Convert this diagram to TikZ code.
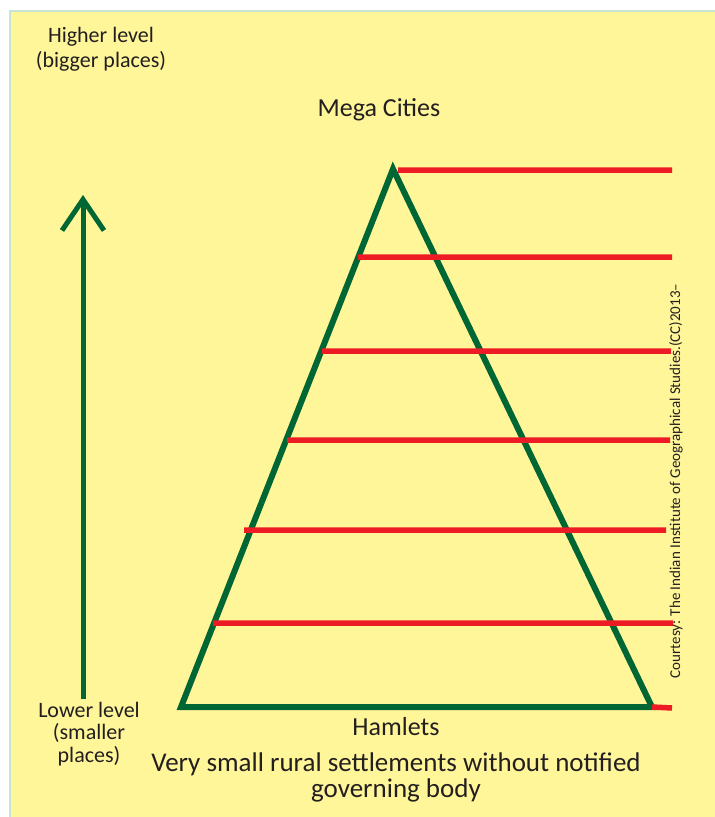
\documentclass[tikz,border=0pt]{standalone}
\usepackage{fontspec}
\setmainfont{Carlito}
\usetikzlibrary{arrows.meta}
\definecolor{paper}{RGB}{255,245,153}
\definecolor{edge}{RGB}{200,228,210}
\definecolor{pygreen}{RGB}{0,102,51}
\definecolor{lvred}{RGB}{237,28,36}
\definecolor{ink}{RGB}{35,31,32}
\tikzset{
  pyramid/.style={draw=pygreen,line width=6pt,line join=miter},
  levelline/.style={draw=lvred,line width=5.5pt},
  bigtext/.style={text=ink,font=\fontsize{26}{27}\selectfont,align=center,inner sep=0pt},
  sidetext/.style={text=ink,font=\fontsize{22}{23}\selectfont,align=center,inner sep=0pt}
}
\begin{document}
\begin{tikzpicture}[x=1pt,y=-1pt]
\useasboundingbox (0,0) rectangle (715,817);
\fill[paper] (10,11) rectangle (716,818);
\draw[edge,line width=1.5pt] (10,818) -- (10,11) -- (716,11);
% pyramid
\coordinate (apex) at (393,169);
\coordinate (left) at (181,707);
\coordinate (right) at (652,707);
\draw[pyramid] (apex) -- (left) -- (right) -- cycle;
% levels
\coordinate (l1a) at (398,170); \coordinate (l1b) at (672,170);
\coordinate (l2a) at (358,257); \coordinate (l2b) at (672,257);
\coordinate (l3a) at (322,351); \coordinate (l3b) at (671,351);
\coordinate (l4a) at (287,440); \coordinate (l4b) at (670,440);
\coordinate (l5a) at (244,530); \coordinate (l5b) at (666,530);
\coordinate (l6a) at (213,623); \coordinate (l6b) at (673,623);
\coordinate (l7b) at (672,708);
\path[levelline]
  (l1a) -- (l1b)
  (l2a) -- (l2b)
  (l3a) -- (l3b)
  (l4a) -- (l4b)
  (l5a) -- (l5b)
  (l6a) -- (l6b)
  (right) -- (l7b)
;
% scale arrow
\coordinate (low) at (83,699);
\coordinate (high) at (83,195);
\draw[pygreen,line width=5pt,-{Straight Barb[length=31pt,width=42pt,line width=5pt]}] (low) -- (high);
% labels
\node[bigtext] (mega) at (379,110) {Mega Cities};
\node[bigtext] (hamlets) at (396,727) {Hamlets};
\node[bigtext,font=\fontsize{27}{26}\selectfont] (rural) at (396,777)
  {Very small rural settlements without notified\\governing body};
\node[sidetext,font=\fontsize{22}{25}\selectfont] (higher) at (101,49) {Higher level\\(bigger places)};
\node[sidetext,font=\fontsize{22}{22.5}\selectfont] (lower) at (89,734) {Lower level\\(smaller\\places)};
\node[text=ink,font=\fontsize{15}{15}\selectfont,rotate=90,inner sep=0pt] (credit) at (676,481)
  {Courtesy:  The Indian Institute of Geographical Studies.(CC)2013--};
\end{tikzpicture}
\end{document}
